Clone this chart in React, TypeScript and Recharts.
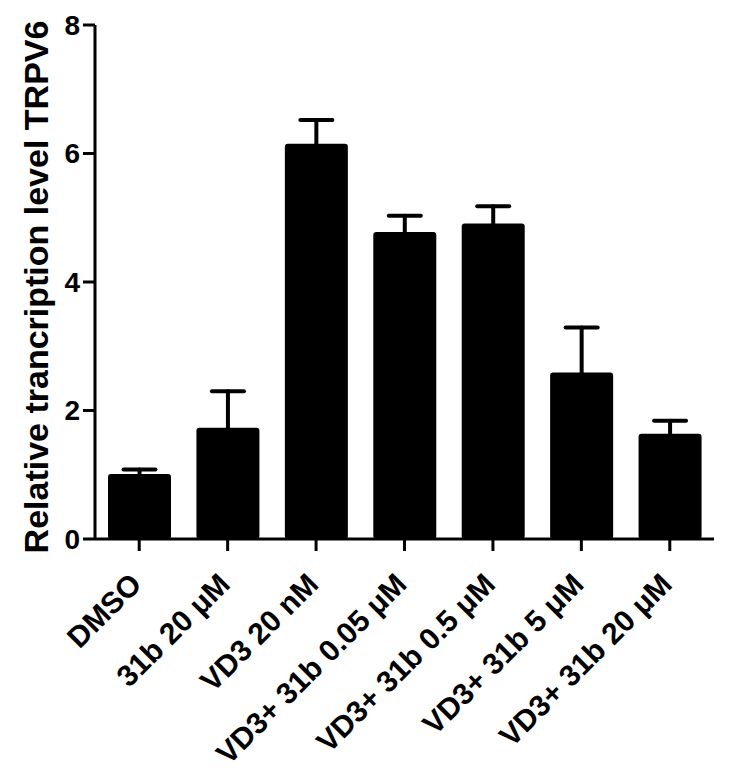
import { Bar, BarChart, ErrorBar, XAxis, YAxis } from "recharts"

// Relative TRPV6 transcription, mean + upper SEM per treatment
const categories = [
  "DMSO",
  "31b 20 μM",
  "VD3 20 nM",
  "VD3+ 31b 0.05 μM",
  "VD3+ 31b 0.5 μM",
  "VD3+ 31b 5 μM",
  "VD3+ 31b 20 μM",
]
const means = [1.01, 1.73, 6.15, 4.78, 4.91, 2.59, 1.64]
const sems = [0.07, 0.57, 0.37, 0.25, 0.27, 0.7, 0.2]
const yTicks = [0, 2, 4, 6, 8]

// lower whisker is tucked just inside the bar top so only the upper one shows
const LOWER_INSET = 0.05

const FONT = "'Liberation Sans', Arial, sans-serif"

const data = categories.map((name, i) => ({
  name,
  value: means[i],
  err: [LOWER_INSET, sems[i]],
}))

function SlantTick(props: any) {
  const { x, y, payload } = props
  const ax = x + 4
  const ay = y + 33
  return (
    <text
      x={ax}
      y={ay}
      transform={`rotate(-45, ${ax}, ${ay})`}
      textAnchor="end"
      fontFamily={FONT}
      fontWeight="bold"
      fontSize={30}
      fill="#000"
    >
      {payload.value}
    </text>
  )
}

function YLabel(props: any) {
  const vb = props.viewBox
  const cx = vb.x + 21
  const cy = vb.y + vb.height / 2 + 5
  return (
    <text
      x={cx}
      y={cy}
      transform={`rotate(-90, ${cx}, ${cy})`}
      textAnchor="middle"
      dominantBaseline="central"
      fontFamily={FONT}
      fontWeight="bold"
      fontSize={34}
      fill="#000"
    >
      Relative trancription level TRPV6
    </text>
  )
}

export default function App() {
  return (
    <BarChart
      width={713}
      height={762}
      data={data}
      margin={{ top: 17, right: 7, bottom: 11, left: 7 }}
    >
      <XAxis
        dataKey="name"
        interval={0}
        height={220}
        tickSize={12}
        axisLine={{ stroke: "#000", strokeWidth: 3 }}
        tickLine={{ stroke: "#000", strokeWidth: 3 }}
        tick={<SlantTick />}
      />
      <YAxis
        width={80}
        domain={[0, 8]}
        ticks={yTicks}
        tickSize={12}
        tickMargin={3}
        axisLine={{ stroke: "#000", strokeWidth: 3 }}
        tickLine={{ stroke: "#000", strokeWidth: 3 }}
        tick={{ fill: "#000", fontSize: 28, fontWeight: "bold", fontFamily: FONT }}
        label={{ content: <YLabel /> }}
      />
      <Bar dataKey="value" fill="#000" barSize={63} radius={3} isAnimationActive={false}>
        <ErrorBar
          dataKey="err"
          direction="y"
          width={16}
          stroke="#000"
          strokeWidth={4}
          strokeLinecap="round"
          isAnimationActive={false}
        />
      </Bar>
    </BarChart>
  )
}
